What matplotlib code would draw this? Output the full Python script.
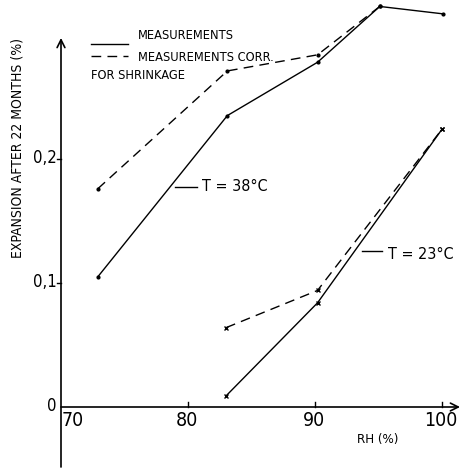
import matplotlib
matplotlib.use("Agg")
import matplotlib.pyplot as plt

plt.rcParams['font.family'] = ['DejaVu Sans']
plt.rcParams['font.stretch'] = 'condensed'

# Relative humidity (%) and expansion after 22 months (%)
rh_38 = [72.9, 83.1, 90.2, 95.1, 100.1]
meas_38 = [0.105, 0.235, 0.278, 0.323, 0.317]
rh_38_corr = [72.9, 83.1, 90.2, 95.1]
corr_38 = [0.176, 0.271, 0.284, 0.323]

rh_23 = [83.0, 90.2, 100.0]
meas_23 = [0.009, 0.084, 0.224]
corr_23 = [0.064, 0.094, 0.224]

x_ticks = [70, 80, 90, 100]
x_tick_labels = ["70", "80", "90", "100"]
y_ticks = [0.0, 0.1, 0.2]
y_tick_labels = ["0", "0,1", "0,2"]

fig = plt.figure(figsize=(4.61, 4.68), dpi=100)
ax = fig.add_axes([0, 0, 1, 1])
ax.set_xlim(65.197, 101.496)
ax.set_ylim(-0.04919, 0.3282)
ax.axis('off')

dash = (0, (7, 4.5))
ax.plot(rh_38, meas_38, color='black', lw=1.0, marker='o', ms=2)
ax.plot(rh_38_corr, corr_38, color='black', lw=1.0, ls=dash, marker='o', ms=2)
ax.plot(rh_23, meas_23, color='black', lw=1.0, marker='x', ms=3, mew=1)
ax.plot(rh_23, corr_23, color='black', lw=1.0, ls=dash, marker='x', ms=3, mew=1)

# axes with arrowheads
ax.annotate('', xy=(70, 0.2976), xytext=(70, -0.0484),
            arrowprops=dict(arrowstyle='->', lw=1.2, color='black',
                            shrinkA=0, shrinkB=0, mutation_scale=14))
ax.annotate('', xy=(101.42, 0.0), xytext=(70, 0.0),
            arrowprops=dict(arrowstyle='->', lw=1.2, color='black',
                            shrinkA=0, shrinkB=0, mutation_scale=14))

# short tick marks on both axes
for xt in x_ticks[1:]:
    ax.plot([xt, xt], [0, 0.004], color='black', lw=1.0)
for yt in y_ticks[1:]:
    ax.plot([69.7, 70], [yt, yt], color='black', lw=1.0)
for xt, lab in zip(x_ticks, x_tick_labels):
    ax.text(xt + (0.95 if xt == 70 else -0.1), -0.011, lab,
            ha='center', va='center', fontsize=14)
for yt, lab in zip(y_ticks, y_tick_labels):
    ax.text(69.65, yt + 0.001, lab, ha='right', va='center', fontsize=12)

ax.text(94.9, -0.0266, "RH (%)", ha='center', va='center', fontsize=9.5)
ax.text(66.6, 0.209, "EXPANSION AFTER 22 MONTHS (%)", rotation=90,
        ha='center', va='center', fontsize=10)

# legend
ax.plot([72.36, 75.28], [0.2927, 0.2927], color='black', lw=1.0)
ax.plot([72.36, 75.28], [0.2831, 0.2831], color='black', lw=1.0, ls=dash)
ax.text(76.06, 0.2996, "MEASUREMENTS", ha='left', va='center', fontsize=9.2)
ax.text(76.06, 0.2815, "MEASUREMENTS CORR.", ha='left', va='center', fontsize=9.2)
ax.text(72.36, 0.2677, "FOR SHRINKAGE", ha='left', va='center', fontsize=9.2)

# curve labels
ax.plot([78.98, 80.71], [0.1774, 0.1774], color='black', lw=1.0)
ax.text(81.1, 0.1782, "T = 38°C", ha='left', va='center', fontsize=11.5)
ax.plot([93.70, 95.28], [0.1258, 0.1258], color='black', lw=1.0)
ax.text(95.75, 0.1226, "T = 23°C", ha='left', va='center', fontsize=11.5)

fig.savefig("out.png", dpi=100)
